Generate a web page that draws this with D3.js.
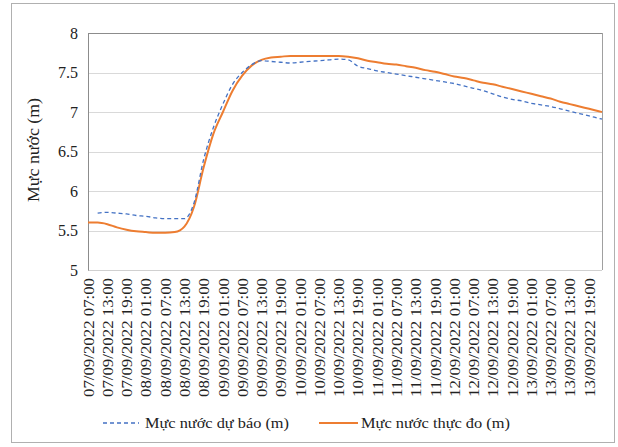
<!DOCTYPE html>
<html>
<head>
<meta charset="utf-8">
<script src="https://cdn.jsdelivr.net/npm/d3@7"></script>
<style>
  html, body { margin: 0; padding: 0; background: #fff; }
  svg { display: block; }
  text { font-family: "Liberation Serif", "Times New Roman", serif; fill: #222; }
</style>
</head>
<body>
<div id="chart"></div>
<script>
// Hours since 07/09/2022 07:00
const hours = [0,3,6,9,12,15,18,21,24,27,30,33,36,39,42,45,48,51,54,57,60,63,66,69,72,75,78,81,84,87,90,93,96,99,102,105,108,111,114,117,120,123,126,129,132,135,138,141,144,147,150,153,156,159,160];
// Measured water level (m)
const actual = [5.60,5.60,5.58,5.54,5.51,5.49,5.48,5.47,5.47,5.48,5.55,5.80,6.30,6.72,7.00,7.27,7.46,7.59,7.66,7.69,7.70,7.71,7.71,7.71,7.71,7.71,7.71,7.70,7.68,7.65,7.63,7.61,7.60,7.58,7.56,7.53,7.51,7.48,7.45,7.43,7.40,7.37,7.35,7.32,7.29,7.26,7.23,7.20,7.17,7.13,7.10,7.07,7.04,7.01,7.00];
// Forecast water level (m); null = no forecast
const forecast = [null,5.72,5.73,5.72,5.71,5.69,5.68,5.66,5.65,5.65,5.65,5.85,6.40,6.80,7.10,7.35,7.50,7.60,7.65,7.64,7.63,7.62,7.63,7.64,7.65,7.66,7.67,7.66,7.58,7.55,7.52,7.50,7.48,7.46,7.44,7.42,7.40,7.38,7.36,7.33,7.30,7.27,7.23,7.19,7.16,7.14,7.11,7.09,7.07,7.04,7.01,6.98,6.95,6.92,6.91];
const tickHours = [0,6,12,18,24,30,36,42,48,54,60,66,72,78,84,90,96,102,108,114,120,126,132,138,144,150,156];
const tickLabels = ["07/09/2022 07:00","07/09/2022 13:00","07/09/2022 19:00",
  "08/09/2022 01:00","08/09/2022 07:00","08/09/2022 13:00","08/09/2022 19:00",
  "09/09/2022 01:00","09/09/2022 07:00","09/09/2022 13:00","09/09/2022 19:00",
  "10/09/2022 01:00","10/09/2022 07:00","10/09/2022 13:00","10/09/2022 19:00",
  "11/09/2022 01:00","11/09/2022 07:00","11/09/2022 13:00","11/09/2022 19:00",
  "12/09/2022 01:00","12/09/2022 07:00","12/09/2022 13:00","12/09/2022 19:00",
  "13/09/2022 01:00","13/09/2022 07:00","13/09/2022 13:00","13/09/2022 19:00"];
const yTicks = [5,5.5,6,6.5,7,7.5,8];
const seriesNames = ["Mực nước dự báo (m)", "Mực nước thực đo (m)"];
const yTitle = "Mực nước (m)";

const W = 618, H = 447;
const m = {left: 88, right: 602, top: 33, bottom: 270};
const svg = d3.select("#chart").append("svg").attr("width", W).attr("height", H);

// outer frame
svg.append("rect").attr("x", 11.5).attr("y", 3.5).attr("width", 603).attr("height", 439)
  .attr("fill", "#fff").attr("stroke", "#b0b0b0").attr("stroke-width", 1);

const x = d3.scaleLinear().domain([0, 160]).range([m.left, m.right]);
const y = d3.scaleLinear().domain([5, 8]).range([m.bottom, m.top]);

// gridlines
svg.append("g").selectAll("line").data(yTicks.filter(v => v > 5 && v < 8)).join("line")
  .attr("x1", m.left).attr("x2", m.right)
  .attr("y1", d => Math.round(y(d)) + 0.5).attr("y2", d => Math.round(y(d)) + 0.5)
  .attr("stroke", "#d9d9d9").attr("stroke-width", 1);

// plot frame
svg.append("line").attr("x1", m.left).attr("x2", m.right).attr("y1", m.top + 0.5).attr("y2", m.top + 0.5).attr("stroke", "#8c8c8c");
svg.append("line").attr("x1", m.right + 0.5).attr("x2", m.right + 0.5).attr("y1", m.top).attr("y2", m.bottom).attr("stroke", "#a0a0a0");
svg.append("line").attr("x1", m.left).attr("x2", m.right).attr("y1", m.bottom + 0.5).attr("y2", m.bottom + 0.5).attr("stroke", "#d0d0d0");

// y axis
const yAxis = d3.axisLeft(y).tickValues(yTicks).tickSize(0).tickPadding(10).tickFormat(d3.format("~g"));
const gy = svg.append("g").attr("transform", `translate(${m.left},0)`).call(yAxis);
gy.select(".domain").attr("stroke", "#8c8c8c");
gy.selectAll("text").attr("font-size", 16).style("font-family", "Liberation Serif").attr("fill", "#222");

// x axis
const xAxis = d3.axisBottom(x).tickValues(tickHours).tickSize(0)
  .tickFormat((d, i) => tickLabels[i]);
const gx = svg.append("g").attr("transform", `translate(0,${m.bottom})`).call(xAxis);
gx.select(".domain").remove();
gx.selectAll("text")
  .attr("font-size", 14.5).style("font-family", "Liberation Serif").attr("fill", "#222")
  .attr("text-anchor", "end")
  .attr("transform", "rotate(-90)")
  .attr("x", -8).attr("y", 0).attr("dy", "0.35em")
  .attr("textLength", 119).attr("lengthAdjust", "spacingAndGlyphs");

// y title
svg.append("text").attr("transform", `translate(39,150) rotate(-90)`)
  .attr("text-anchor", "middle").attr("font-size", 16)
  .attr("textLength", 104).attr("lengthAdjust", "spacingAndGlyphs")
  .text(yTitle);

// lines
const actualPts = hours.map((h, i) => [h, actual[i]]);
const forecastPts = hours.map((h, i) => [h, forecast[i]]);
const line = d3.line().defined(d => d[1] != null).x(d => x(d[0])).y(d => y(d[1])).curve(d3.curveMonotoneX);

svg.append("path").datum(actualPts).attr("d", line)
  .attr("fill", "none").attr("stroke", "#ED7D31").attr("stroke-width", 2);
svg.append("path").datum(forecastPts).attr("d", line)
  .attr("fill", "none").attr("stroke", "#4472C4").attr("stroke-width", 1.3)
  .attr("stroke-dasharray", "4,3");

// legend
const ly = 423;
const lg = svg.append("g");
lg.append("line").attr("x1", 103).attr("x2", 139).attr("y1", ly).attr("y2", ly)
  .attr("stroke", "#4472C4").attr("stroke-width", 1.3).attr("stroke-dasharray", "4,3");
lg.append("text").attr("x", 145).attr("y", ly).attr("dy", "0.35em").attr("font-size", 15)
  .attr("textLength", 144).attr("lengthAdjust", "spacingAndGlyphs").text(seriesNames[0]);
lg.append("line").attr("x1", 319).attr("x2", 358).attr("y1", ly).attr("y2", ly)
  .attr("stroke", "#ED7D31").attr("stroke-width", 2);
lg.append("text").attr("x", 361).attr("y", ly).attr("dy", "0.35em").attr("font-size", 15)
  .attr("textLength", 149).attr("lengthAdjust", "spacingAndGlyphs").text(seriesNames[1]);
</script>
</body>
</html>
